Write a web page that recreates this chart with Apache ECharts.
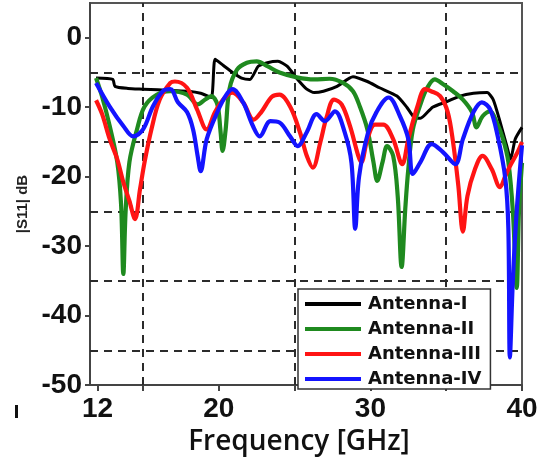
<!DOCTYPE html>
<html>
<head>
<meta charset="utf-8">
<title>|S11| vs Frequency</title>
<script src="https://cdn.jsdelivr.net/npm/echarts@6/dist/echarts.min.js"></script>
<style>
  html, body { margin: 0; padding: 0; background: #fff; }
  #chart { width: 548px; height: 461px; }
</style>
</head>
<body>
<div id="chart"></div>
<script>
// Series names shown in the legend
const seriesNames = ['Antenna-I', 'Antenna-II', 'Antenna-III', 'Antenna-IV'];

// Antenna-I: frequency (GHz) and |S11| (dB)
const freqI = [11.9, 13.0, 13.15, 14, 15, 16, 17, 18, 18.8, 19.5, 19.75, 20.3, 20.9, 21.5, 22.05, 22.6, 23.2, 23.9, 24.5, 25.2, 25.8, 26.3, 26.9, 27.8, 28.85, 29.8, 30.6, 31.75, 32.4, 32.9, 33.3, 34.1, 35.05, 35.9, 36.8, 37.7, 38.1, 38.5, 39.0, 39.25, 39.55, 40];
const s11I = [-5.8, -6.0, -7.0, -7.3, -7.4, -7.5, -7.6, -7.7, -8.0, -8.6, -3.1, -4.0, -5.0, -5.8, -6.0, -4.1, -3.6, -3.4, -4.1, -6.0, -7.4, -7.9, -7.7, -7.0, -5.6, -6.3, -7.2, -8.4, -10.0, -11.5, -11.6, -10.0, -9.2, -8.4, -8.0, -7.9, -8.9, -11.7, -15.6, -17.5, -14.6, -12.9];

// Antenna-II
const freqII = [11.9, 12.3, 12.8, 13.3, 13.55, 13.7, 13.85, 14.1, 14.6, 15.1, 15.9, 16.8, 17.9, 18.6, 19.1, 19.5, 19.9, 20.1, 20.25, 20.45, 20.7, 21.2, 21.85, 22.5, 23.2, 24.0, 25.15, 26.3, 27.3, 28.2, 28.85, 29.3, 29.8, 30.2, 30.45, 30.8, 31.1, 31.5, 31.8, 32.06, 32.3, 32.5, 32.8, 33.3, 33.7, 34.25, 34.8, 35.45, 36.1, 36.7, 37.0, 37.4, 37.9, 38.3, 38.75, 39.1, 39.4, 39.65, 39.8, 40];
const s11II = [-5.8, -8.5, -12.7, -17.9, -24, -34, -25, -17.9, -13.2, -9.9, -8.2, -7.7, -8.2, -9.6, -8.9, -8.4, -9.6, -13.2, -16.3, -13.2, -7.4, -4.6, -3.6, -3.4, -4.1, -5.0, -5.7, -6.0, -5.9, -6.5, -7.7, -9.9, -13.2, -17.9, -20.6, -17.9, -15.6, -17.0, -22.8, -33, -24.6, -18.9, -13.2, -9.6, -7.4, -6.0, -6.7, -7.7, -8.9, -10.7, -12.9, -11.3, -10.6, -12.0, -14.6, -17.9, -25.1, -36, -25, -18];

// Antenna-III
const freqIII = [11.9, 12.3, 12.8, 13.3, 13.7, 14.1, 14.47, 14.8, 15.1, 15.55, 16.1, 16.8, 17.1, 17.9, 18.56, 19.2, 19.75, 20.4, 20.9, 21.6, 22.3, 22.8, 23.5, 24.0, 24.7, 25.35, 25.8, 26.2, 26.7, 27.1, 27.6, 28.1, 28.65, 29.2, 29.4, 29.8, 30.3, 30.85, 31.5, 32.1, 32.5, 33.1, 33.6, 34.0, 34.6, 35.1, 35.45, 35.8, 36.1, 36.4, 36.9, 37.4, 38.0, 38.55, 38.9, 39.2, 39.7, 40];
const s11III = [-9.0, -11, -14.6, -17.5, -20.8, -23.5, -26.1, -21.8, -17.9, -13.2, -8.9, -6.5, -6.3, -7.2, -10.3, -13.2, -10.7, -8.6, -7.9, -9.3, -11.8, -10.7, -8.5, -8.2, -9.9, -13.6, -17.0, -18.7, -15.0, -11.5, -8.9, -9.6, -12.7, -17.0, -17.9, -14.6, -12.5, -12.5, -14.6, -18.2, -14.6, -9.9, -7.4, -7.7, -8.4, -10.7, -15.0, -21.3, -27.9, -22.8, -18.9, -17.0, -18.9, -21.5, -19.9, -18.5, -16.5, -15.0];

// Antenna-IV
const freqIV = [11.9, 12.8, 13.7, 14.35, 15.0, 15.65, 16.3, 16.8, 17.3, 17.9, 18.3, 18.6, 18.8, 19.2, 19.9, 20.5, 20.9, 21.6, 22.25, 22.7, 23.4, 24.0, 24.7, 25.2, 25.8, 26.45, 27.0, 27.66, 28.3, 28.75, 29.0, 29.25, 29.85, 30.4, 31.2, 31.95, 32.5, 32.8, 33.3, 34.05, 34.8, 35.6, 36.1, 36.8, 37.35, 37.9, 38.4, 38.9, 39.1, 39.2, 39.4, 39.65, 40];
const s11IV = [-6.5, -9.9, -12.7, -14.2, -13.2, -9.9, -7.7, -7.4, -9.3, -10.7, -13.2, -17.0, -19.2, -14.6, -10.7, -8.2, -7.4, -9.3, -12.7, -14.2, -12.0, -12.2, -14.2, -15.6, -13.6, -11.0, -12.0, -10.6, -13.6, -18.0, -27.5, -20.0, -13.6, -10.7, -8.6, -11.3, -14.6, -19.6, -17.9, -15.3, -16.5, -18.2, -14.6, -10.7, -9.3, -10.3, -14.2, -20.3, -27.5, -46, -34.7, -25, -15.5];

// Axis ticks and labels
const xLabelValues = [12, 20, 30, 40];
const xTickValues = [12, 15, 20, 25, 30, 35, 40];
const yLabelValues = [-50, -40, -30, -20, -10, 0];

// Dashed reference lines
const gridFreqs = [15, 25, 35];
const gridLevels = [-5, -15, -25, -35, -45];

const colors = ['#000000', '#1f8a1f', '#ff1414', '#1414ff'];
const widths = [3, 4.2, 4.2, 4.2];
const freqs = [freqI, freqII, freqIII, freqIV];
const values = [s11I, s11II, s11III, s11IV];

const pairs = (xs, ys) => xs.map((x, i) => [x, ys[i]]);

const curveSeries = seriesNames.map((name, k) => ({
  name: name,
  type: 'line',
  data: pairs(freqs[k], values[k]),
  showSymbol: false,
  symbol: 'none',
  smooth: k === 0 ? 0.2 : 0.35,
  z: 3 + k,
  lineStyle: { color: colors[k], width: widths[k] },
  itemStyle: { color: colors[k] }
}));

const gridSeries = {
  name: 'reference-lines',
  type: 'line',
  data: [],
  z: 1,
  silent: true,
  markLine: {
    z: 1,
    silent: true,
    symbol: ['none', 'none'],
    label: { show: false },
    emphasis: { disabled: true },
    lineStyle: { color: '#2b2b2b', type: [8, 6], width: 2 },
    data: [
      ...gridFreqs.map(v => ({ xAxis: v })),
      ...gridLevels.map(v => ({ yAxis: v }))
    ]
  }
};

const chart = echarts.init(document.getElementById('chart'), null, { renderer: 'canvas' });

chart.setOption({
  animation: false,
  backgroundColor: '#ffffff',
  grid: {
    left: 90, right: 26, top: 3, bottom: 74,
    show: true, borderColor: '#555', borderWidth: 2, backgroundColor: 'transparent'
  },
  xAxis: {
    type: 'value',
    min: 11.5,
    max: 40,
    name: 'Frequency [GHz]',
    nameLocation: 'middle',
    nameGap: 39,
    nameTextStyle: {
      fontFamily: 'Open Sans', fontWeight: 600, fontSize: 28, color: '#111',
      padding: [0, 14, 0, 0]
    },
    axisLine: { show: true, onZero: false, lineStyle: { color: '#444', width: 2 } },
    axisTick: { show: true, length: 6, customValues: xTickValues, lineStyle: { color: '#444', width: 2 } },
    axisLabel: {
      customValues: xLabelValues,
      margin: 10,
      fontFamily: 'Liberation Sans', fontWeight: 'bold', fontSize: 28, color: '#111'
    },
    splitLine: { show: false }
  },
  yAxis: {
    type: 'value',
    min: -50,
    max: 5,
    name: '|S11| dB',
    nameLocation: 'middle',
    nameGap: 53,
    nameTextStyle: {
      fontFamily: 'Liberation Sans', fontWeight: 'bold', fontSize: 15, color: '#222',
      padding: [0, 20, 0, 0]
    },
    axisLine: { show: true, onZero: false, lineStyle: { color: '#444', width: 2 } },
    axisTick: { show: true, length: 5, customValues: yLabelValues, lineStyle: { color: '#444', width: 2 } },
    axisLabel: {
      customValues: yLabelValues,
      margin: 8,
      fontFamily: 'Liberation Sans', fontWeight: 'bold', fontSize: 28, color: '#111'
    },
    splitLine: { show: false }
  },
  legend: {
    show: true,
    z: 20,
    data: seriesNames,
    orient: 'vertical',
    left: 298,
    top: 289,
    icon: 'rect',
    itemWidth: 56,
    itemHeight: 4,
    itemGap: 5,
    padding: [5, 9, 0, 7],
    backgroundColor: '#ffffff',
    borderColor: '#333',
    borderWidth: 1.5,
    textStyle: {
      fontFamily: 'DejaVu Sans', fontWeight: 'bold', fontSize: 18, lineHeight: 20, color: '#111',
      padding: [0, 0, 0, 2]
    }
  },
  graphic: [
    { type: 'rect', left: 15, top: 405, shape: { width: 3, height: 13 }, style: { fill: '#111' } }
  ],
  series: [gridSeries, ...curveSeries]
});
</script>
</body>
</html>
